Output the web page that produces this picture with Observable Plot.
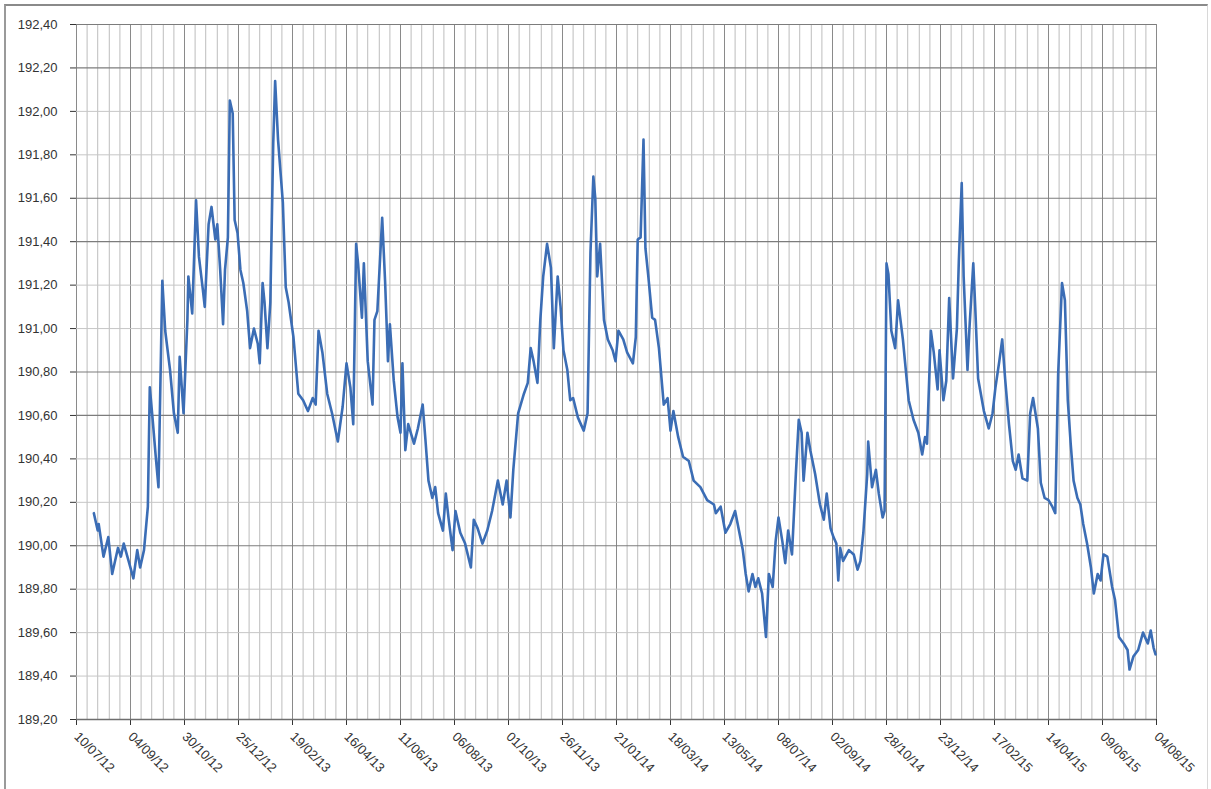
<!DOCTYPE html>
<html>
<head>
<meta charset="utf-8">
<script src="https://cdn.jsdelivr.net/npm/d3@7"></script>
<script src="https://cdn.jsdelivr.net/npm/@observablehq/plot@0.6"></script>
<style>
  html, body { margin: 0; padding: 0; background: #fff; }
  #wrap { position: relative; width: 1211px; height: 789px; overflow: hidden; }
  #frame {
    position: absolute; left: 4px; top: 4px; width: 1204px; height: 800px;
    border-top: 2px solid #8a8a8a; border-left: 2px solid #9a9a9a; border-right: 1px solid #d8d8d8;
    box-sizing: border-box; pointer-events: none;
  }
  #chart { position: absolute; left: 0; top: 0; }
</style>
</head>
<body>
<div id="wrap"><div id="chart"></div><div id="frame"></div></div>
<script>
// Daily quote, July 2012 – August 2015
const dates = [
  "2012-07-28","2012-08-01","2012-08-02","2012-08-07","2012-08-12","2012-08-16","2012-08-22","2012-08-25","2012-08-28",
  "2012-09-02","2012-09-07","2012-09-11","2012-09-14","2012-09-18","2012-09-22","2012-09-24","2012-09-27","2012-09-30",
  "2012-10-03","2012-10-07","2012-10-10","2012-10-15","2012-10-19","2012-10-23","2012-10-25","2012-10-29",
  "2012-11-02","2012-11-03","2012-11-07","2012-11-11","2012-11-14","2012-11-18","2012-11-20","2012-11-24","2012-11-27",
  "2012-12-01","2012-12-03","2012-12-06","2012-12-09","2012-12-11","2012-12-14","2012-12-16","2012-12-19","2012-12-21",
  "2012-12-24","2012-12-27","2012-12-30",
  "2013-01-03","2013-01-06","2013-01-10","2013-01-14","2013-01-16","2013-01-19","2013-01-21","2013-01-24","2013-01-27","2013-01-30",
  "2013-02-01","2013-02-04","2013-02-09","2013-02-12","2013-02-15","2013-02-20","2013-02-25",
  "2013-03-02","2013-03-07","2013-03-12","2013-03-15","2013-03-18","2013-03-22","2013-03-27",
  "2013-04-01","2013-04-07","2013-04-12","2013-04-16","2013-04-20","2013-04-23","2013-04-26","2013-04-28",
  "2013-05-02","2013-05-04","2013-05-08","2013-05-13","2013-05-15","2013-05-18","2013-05-23","2013-05-26","2013-05-29","2013-05-31",
  "2013-06-04","2013-06-08","2013-06-11","2013-06-13","2013-06-16","2013-06-19","2013-06-25","2013-06-29",
  "2013-07-04","2013-07-07","2013-07-10","2013-07-14","2013-07-17","2013-07-20","2013-07-25","2013-07-28","2013-07-31",
  "2013-08-04","2013-08-07","2013-08-12","2013-08-17","2013-08-23","2013-08-26","2013-08-30",
  "2013-09-04","2013-09-09","2013-09-14","2013-09-20","2013-09-25","2013-09-29",
  "2013-10-03","2013-10-06","2013-10-11","2013-10-17","2013-10-21","2013-10-24","2013-10-27","2013-10-31",
  "2013-11-03","2013-11-06","2013-11-10","2013-11-14","2013-11-17","2013-11-21","2013-11-24","2013-11-27",
  "2013-12-01","2013-12-04","2013-12-07","2013-12-12","2013-12-15","2013-12-18","2013-12-22","2013-12-25","2013-12-28","2013-12-30",
  "2014-01-01","2014-01-04","2014-01-08","2014-01-12","2014-01-17","2014-01-20","2014-01-23","2014-01-28",
  "2014-02-01","2014-02-07","2014-02-10","2014-02-12","2014-02-15","2014-02-18","2014-02-20","2014-02-23","2014-02-27",
  "2014-03-02","2014-03-06","2014-03-11","2014-03-15","2014-03-18","2014-03-21","2014-03-26","2014-03-31",
  "2014-04-06","2014-04-11","2014-04-18","2014-04-25",
  "2014-05-02","2014-05-04","2014-05-09","2014-05-14","2014-05-19","2014-05-24","2014-05-28",
  "2014-06-01","2014-06-04","2014-06-07","2014-06-11","2014-06-14","2014-06-17","2014-06-21","2014-06-25","2014-06-28",
  "2014-07-02","2014-07-05","2014-07-08","2014-07-12","2014-07-15","2014-07-18","2014-07-22","2014-07-26","2014-07-29",
  "2014-08-01","2014-08-03","2014-08-07","2014-08-10","2014-08-15","2014-08-20","2014-08-24","2014-08-27","2014-08-31",
  "2014-09-03","2014-09-06","2014-09-08","2014-09-10","2014-09-13","2014-09-19","2014-09-24","2014-09-28",
  "2014-10-01","2014-10-04","2014-10-08","2014-10-09","2014-10-13","2014-10-17","2014-10-20","2014-10-24","2014-10-26","2014-10-28","2014-10-30",
  "2014-11-02","2014-11-06","2014-11-09","2014-11-14","2014-11-17","2014-11-20","2014-11-25","2014-11-30",
  "2014-12-04","2014-12-07","2014-12-09","2014-12-13","2014-12-16","2014-12-20","2014-12-22","2014-12-26","2014-12-29",
  "2015-01-01","2015-01-05","2015-01-09","2015-01-11","2015-01-14","2015-01-16","2015-01-20","2015-01-22","2015-01-26","2015-01-28","2015-01-31",
  "2015-02-06","2015-02-11","2015-02-15","2015-02-18","2015-02-22","2015-02-25","2015-02-28",
  "2015-03-04","2015-03-08","2015-03-11","2015-03-14","2015-03-18","2015-03-23","2015-03-26","2015-03-29",
  "2015-04-03","2015-04-06","2015-04-10","2015-04-14","2015-04-18","2015-04-21","2015-04-24","2015-04-28",
  "2015-05-01","2015-05-04","2015-05-07","2015-05-10","2015-05-14","2015-05-17","2015-05-20","2015-05-24","2015-05-28","2015-05-31",
  "2015-06-04","2015-06-07","2015-06-10","2015-06-14","2015-06-19","2015-06-22","2015-06-26",
  "2015-07-01","2015-07-05","2015-07-07","2015-07-11","2015-07-16","2015-07-21","2015-07-26","2015-07-29",
  "2015-08-01","2015-08-03"
];

const prices = [
  190.15,190.07,190.10,189.95,190.04,189.87,189.99,189.95,190.01,
  189.93,189.85,189.98,189.90,189.98,190.18,190.73,190.58,190.42,
  190.27,191.22,190.99,190.81,190.61,190.52,190.87,190.61,
  191.04,191.24,191.07,191.59,191.33,191.18,191.10,191.48,191.56,
  191.41,191.48,191.27,191.02,191.27,191.42,192.05,191.99,191.50,
  191.44,191.27,191.21,
  191.08,190.91,191.00,190.93,190.84,191.21,191.12,190.91,191.12,191.85,
  192.14,191.87,191.58,191.19,191.12,190.96,190.70,
  190.67,190.62,190.68,190.65,190.99,190.89,190.70,
  190.61,190.48,190.64,190.84,190.73,190.56,191.39,191.30,
  191.05,191.30,190.85,190.65,191.04,191.08,191.51,191.22,190.85,191.02,
  190.76,190.59,190.52,190.84,190.44,190.56,190.47,190.54,
  190.65,190.48,190.30,190.22,190.27,190.15,190.07,190.24,190.12,
  189.98,190.16,190.06,190.01,189.90,190.12,190.08,
  190.01,190.07,190.16,190.30,190.19,190.30,
  190.13,190.35,190.61,190.70,190.75,190.91,190.85,190.75,
  191.04,191.24,191.39,191.28,190.91,191.24,191.10,190.90,
  190.81,190.67,190.68,190.59,190.56,190.53,190.61,191.35,191.70,191.60,
  191.24,191.39,191.04,190.95,190.90,190.85,190.99,190.95,
  190.89,190.84,190.96,191.41,191.42,191.87,191.37,191.24,191.05,
  191.04,190.91,190.65,190.68,190.53,190.62,190.50,190.41,
  190.39,190.30,190.27,190.21,
  190.19,190.15,190.18,190.06,190.10,190.16,190.07,
  189.98,189.87,189.79,189.87,189.81,189.85,189.78,189.58,189.87,
  189.81,190.02,190.13,190.02,189.92,190.07,189.96,190.33,190.58,
  190.52,190.30,190.52,190.44,190.33,190.19,190.12,190.24,190.08,
  190.04,190.01,189.84,189.99,189.93,189.98,189.96,189.89,
  189.93,190.06,190.33,190.48,190.27,190.35,190.24,190.13,190.16,191.30,191.25,
  190.99,190.91,191.13,190.95,190.81,190.67,190.58,190.52,
  190.42,190.50,190.47,190.99,190.89,190.72,190.90,190.67,190.76,
  191.14,190.77,191.00,191.31,191.67,191.24,190.81,191.00,191.30,191.10,190.77,
  190.62,190.54,190.61,190.73,190.85,190.95,190.77,
  190.56,190.39,190.35,190.42,190.31,190.30,190.61,190.68,
  190.54,190.29,190.22,190.21,190.18,190.15,190.79,191.21,
  191.13,190.67,190.47,190.30,190.22,190.19,190.10,190.01,189.90,189.78,
  189.87,189.84,189.96,189.95,189.81,189.75,189.58,
  189.55,189.52,189.43,189.49,189.52,189.60,189.55,189.61,
  189.53,189.50
];

// Labelled dates on the time axis (every eight weeks)
const tickDates = [
  "2012-07-10","2012-09-04","2012-10-30","2012-12-25","2013-02-19","2013-04-16","2013-06-11",
  "2013-08-06","2013-10-01","2013-11-26","2014-01-21","2014-03-18","2014-05-13","2014-07-08",
  "2014-09-02","2014-10-28","2014-12-23","2015-02-17","2015-04-14","2015-06-09","2015-08-04"
];

// Value axis levels
const yTicks = [189.2,189.4,189.6,189.8,190.0,190.2,190.4,190.6,190.8,191.0,191.2,191.4,191.6,191.8,192.0,192.2,192.4];
const strongLevels = [190.0,190.6,190.8,191.4,191.6,192.2,192.4];

const parse = d3.utcParse("%Y-%m-%d");
const fmt = d3.utcFormat("%d/%m/%y");
const data = dates.map((d, i) => ({date: parse(d), price: prices[i]}));
const ticks = tickDates.map(parse);

// Minor vertical gridlines: four between each pair of labelled dates
const minorDates = [];
for (let i = 0; i < ticks.length - 1; i++) {
  for (let j = 1; j < 5; j++) minorDates.push(d3.utcDay.offset(ticks[i], Math.round(11.2 * j)));
}
const lightLevels = yTicks.filter(v => !strongLevels.includes(v) && v !== 189.2);

const chart = Plot.plot({
  width: 1211,
  height: 789,
  marginLeft: 76,
  marginRight: 55,
  marginTop: 24,
  marginBottom: 70,
  style: {fontFamily: "'Liberation Sans', Arial, sans-serif", fontSize: "13px", color: "#333", background: "transparent"},
  x: {
    type: "utc",
    domain: [ticks[0], ticks[ticks.length - 1]],
    ticks: ticks,
    tickFormat: fmt,
    tickRotate: 45,
    tickSize: 6,
    tickPadding: 9,
    label: null
  },
  y: {
    domain: [189.2, 192.4],
    ticks: yTicks,
    tickFormat: v => v.toFixed(2).replace(".", ","),
    tickSize: 6,
    tickPadding: 13,
    label: null
  },
  marks: [
    Plot.ruleX(minorDates, {stroke: "#bdbdbd", strokeWidth: 1}),
    Plot.ruleX(ticks, {stroke: "#8a8a8a", strokeWidth: 1}),
    Plot.ruleY(lightLevels, {stroke: "#c6c6c6", strokeWidth: 1}),
    Plot.ruleY(strongLevels, {stroke: "#7c7c7c", strokeWidth: 1.2}),
    Plot.ruleY([189.2], {stroke: "#6e6e6e", strokeWidth: 1.5}),
    Plot.line(data, {x: "date", y: "price", stroke: "#3b6db5", strokeWidth: 2.6, strokeLinejoin: "round"})
  ]
});
document.getElementById("chart").append(chart);
</script>
</body>
</html>
